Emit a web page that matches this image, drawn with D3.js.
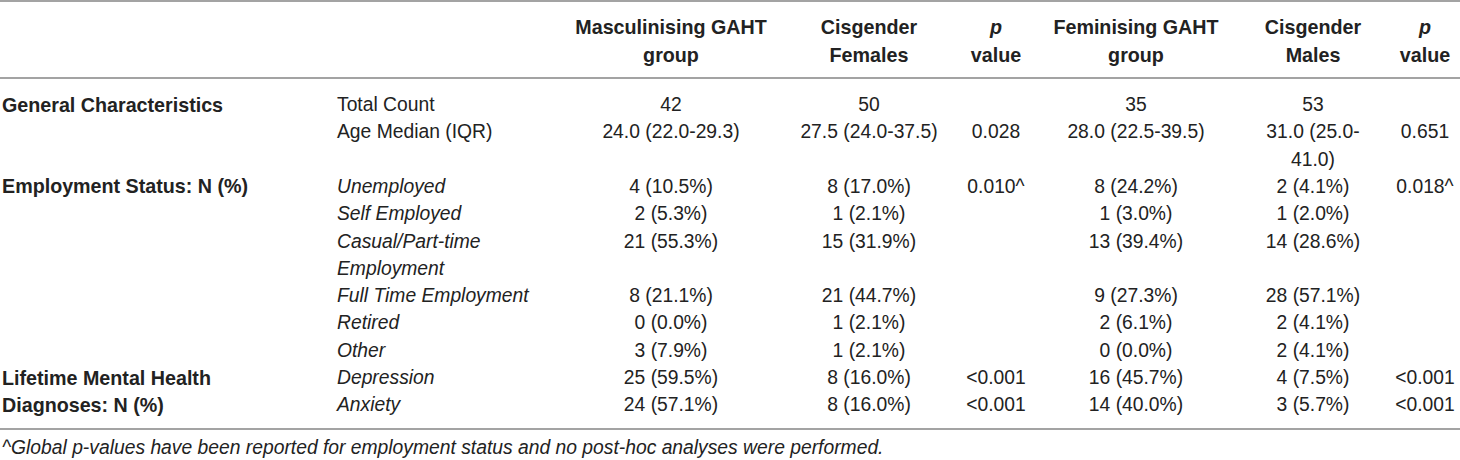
<!DOCTYPE html>
<html>
<head>
<meta charset="utf-8">
<script src="https://cdn.jsdelivr.net/npm/d3@7"></script>
<style>
  body { margin: 0; background: #fff; }
  svg { display: block; font-family: "Liberation Sans", Arial, Helvetica, sans-serif; }
</style>
</head>
<body>
<div id="content"></div>
<script>
// Table data, one array per column.
var groupNames = ['General Characteristics', 'Employment Status: N (%)',
                  'Lifetime Mental Health Diagnoses: N (%)'];
var rowGroup = [0, 0, 1, 1, 1, 1, 1, 1, 2, 2];
var rowLabels = ['Total Count', 'Age Median (IQR)', 'Unemployed', 'Self Employed',
                 'Casual/Part-time Employment', 'Full Time Employment', 'Retired',
                 'Other', 'Depression', 'Anxiety'];
var mascGAHT = ['42', '24.0 (22.0-29.3)', '4 (10.5%)', '2 (5.3%)', '21 (55.3%)',
                '8 (21.1%)', '0 (0.0%)', '3 (7.9%)', '25 (59.5%)', '24 (57.1%)'];
var cisFemales = ['50', '27.5 (24.0-37.5)', '8 (17.0%)', '1 (2.1%)', '15 (31.9%)',
                  '21 (44.7%)', '1 (2.1%)', '1 (2.1%)', '8 (16.0%)', '8 (16.0%)'];
var pFemales = ['', '0.028', '0.010^', '', '', '', '', '', '<0.001', '<0.001'];
var femGAHT = ['35', '28.0 (22.5-39.5)', '8 (24.2%)', '1 (3.0%)', '13 (39.4%)',
               '9 (27.3%)', '2 (6.1%)', '0 (0.0%)', '16 (45.7%)', '14 (40.0%)'];
var cisMales = ['53', '31.0 (25.0-41.0)', '2 (4.1%)', '1 (2.0%)', '14 (28.6%)',
                '28 (57.1%)', '2 (4.1%)', '2 (4.1%)', '4 (7.5%)', '3 (5.7%)'];
var pMales = ['', '0.651', '0.018^', '', '', '', '', '', '<0.001', '<0.001'];
var colHeaders = [['Masculinising GAHT', 'group'], ['Cisgender', 'Females'], ['p', 'value'],
                  ['Feminising GAHT', 'group'], ['Cisgender', 'Males'], ['p', 'value']];
var footnote = '^Global p-values have been reported for employment status and no post-hoc analyses were performed.';

var width = 1460, height = 460;
var fontSize = 19.3, boldSize = 19.7;
var ink = '#222';
var ruleColor = '#a3a3a3';

var svg = d3.select('#content')
              .append('svg')
              .attr('width', width)
              .attr('height', height);

// Column positions (left edge for the two label columns, centre for the rest).
var colKeys = ['group', 'label', 'masc', 'cisF', 'p1', 'fem', 'cisM', 'p2'];
var colX = d3.scaleOrdinal().domain(colKeys)
               .range([2, 337, 671, 869, 996, 1136, 1313, 1425]);
var colWidth = d3.scaleOrdinal().domain(colKeys)
                   .range([285, 215, 190, 160, 70, 190, 122, 70]);
// Line index -> y centre of the text line.
var lineY = d3.scaleLinear().domain([0, 1]).range([104.5, 131.8]);

var valueCols = [['masc', mascGAHT], ['cisF', cisFemales], ['p1', pFemales],
                 ['fem', femGAHT], ['cisM', cisMales], ['p2', pMales]];

// Measure text with a hidden node, so cells wrap like the original.
var probe = svg.append('text').attr('visibility', 'hidden');
function wrap(str, maxW, italic, bold) {
  probe.attr('font-style', italic ? 'italic' : 'normal')
       .attr('font-weight', bold ? 'bold' : 'normal')
       .attr('font-size', bold ? boldSize : fontSize);
  var tokens = str.split(/(?<=[ \-])/);
  var lines = [], cur = '';
  tokens.forEach(function(t) {
    var test = cur + t;
    probe.text(test.trim());
    if (cur && probe.node().getComputedTextLength() > maxW) {
      lines.push(cur.trim());
      cur = t;
    } else {
      cur = test;
    }
  });
  if (cur.trim()) lines.push(cur.trim());
  return lines;
}

// Lay out rows: each row starts after the tallest cell of the previous row.
var cells = [];
var line = 0;
var groupStart = {};
rowLabels.forEach(function(label, i) {
  var italic = rowGroup[i] !== 0;
  if (groupStart[rowGroup[i]] === undefined) groupStart[rowGroup[i]] = line;
  var rowCells = [{col : 'label', lines : wrap(label, colWidth('label'), italic), italic : italic,
                   anchor : 'start'}];
  valueCols.forEach(function(vc) {
    rowCells.push({col : vc[0], lines : wrap(vc[1][i], colWidth(vc[0]), false),
                   italic : false, anchor : 'middle'});
  });
  var n = d3.max(rowCells, function(c) { return c.lines.length; });
  rowCells.forEach(function(c) { c.line = line; cells.push(c); });
  line += n;
});
groupNames.forEach(function(name, gi) {
  cells.push({col : 'group', lines : wrap(name, colWidth('group'), false, true),
              italic : false, bold : true, anchor : 'start', line : groupStart[gi]});
});
probe.remove();

var body = svg.append('g').attr('fill', ink);
cells.forEach(function(c) {
  c.lines.forEach(function(t, k) {
    body.append('text')
        .attr('x', colX(c.col))
        .attr('y', lineY(c.line + k))
        .attr('dominant-baseline', 'central')
        .attr('text-anchor', c.anchor)
        .attr('font-size', c.bold ? boldSize : fontSize)
        .attr('font-style', c.italic ? 'italic' : 'normal')
        .attr('font-weight', c.bold ? 'bold' : 'normal')
        .text(t);
  });
});

// Header.
var head = svg.append('g').attr('fill', ink).attr('font-size', boldSize)
                 .attr('font-weight', 'bold');
colHeaders.forEach(function(h, i) {
  h.forEach(function(t, k) {
    head.append('text')
        .attr('x', colX(valueCols[i][0]))
        .attr('y', 27 + k * 28)
        .attr('dominant-baseline', 'central')
        .attr('text-anchor', 'middle')
        .attr('font-style', t === 'p' ? 'italic' : 'normal')
        .text(t);
  });
});

// Horizontal rules.
svg.selectAll('line.rule')
    .data([1, 78, 429])
    .enter()
    .append('line')
    .attr('class', 'rule')
    .attr('x1', 0).attr('x2', width)
    .attr('y1', function(d) { return d; })
    .attr('y2', function(d) { return d; })
    .attr('stroke', ruleColor)
    .attr('stroke-width', 1.8);

// Footnote.
svg.append('text')
    .attr('x', 2)
    .attr('y', 447)
    .attr('dominant-baseline', 'central')
    .attr('font-size', fontSize)
    .attr('font-style', 'italic')
    .attr('fill', ink)
    .text(footnote);
</script>
</body>
</html>
